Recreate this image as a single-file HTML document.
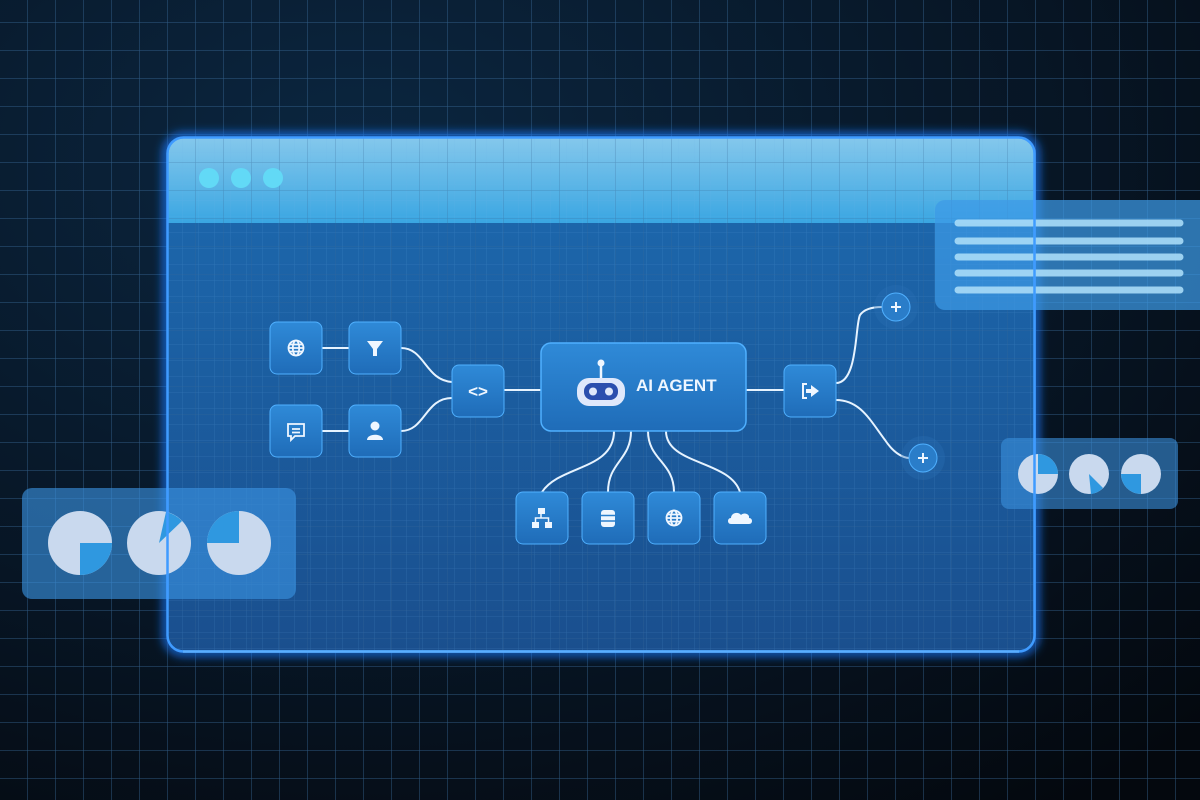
<!DOCTYPE html>
<html><head><meta charset="utf-8"><style>
html,body{margin:0;padding:0;width:1200px;height:800px;overflow:hidden;background:#050a12}
svg{display:block}
text{font-family:"Liberation Sans",sans-serif}
</style></head><body>
<svg width="1200" height="800" viewBox="0 0 1200 800" xmlns="http://www.w3.org/2000/svg">
<defs>
<radialGradient id="bg" cx="0.3" cy="0.2" r="1">
<stop offset="0" stop-color="#0b2640"/><stop offset="0.6" stop-color="#071524"/><stop offset="1" stop-color="#04080e"/>
</radialGradient>
<pattern id="grid" x="0" y="23" width="28" height="28" patternUnits="userSpaceOnUse">
<path d="M28 0V28M0 28H28" stroke="#3a6a98" stroke-width="1" fill="none" opacity="0.8"/>
</pattern>
<pattern id="fgrid" x="167" y="137" width="16" height="16" patternUnits="userSpaceOnUse">
<path d="M16 0V16M0 16H16" stroke="#6aaee8" stroke-width="0.8" fill="none" opacity="0.25"/>
</pattern>
<linearGradient id="title" x1="0" y1="0" x2="0" y2="1">
<stop offset="0" stop-color="#85c8ec"/><stop offset="1" stop-color="#3aa6e2"/>
</linearGradient>
<linearGradient id="body" x1="0" y1="0" x2="0" y2="1">
<stop offset="0" stop-color="#1c6ab0"/><stop offset="1" stop-color="#1a4f8e"/>
</linearGradient>
<linearGradient id="node" x1="0" y1="0" x2="0" y2="1">
<stop offset="0" stop-color="#2f8ad8"/><stop offset="1" stop-color="#1f6cb8"/>
</linearGradient>
<filter id="glow" x="-10%" y="-10%" width="120%" height="120%"><feGaussianBlur stdDeviation="5"/></filter>
</defs>
<rect width="1200" height="800" fill="url(#bg)"/>
<rect width="1200" height="800" fill="url(#grid)"/>

<rect x="167" y="137" width="868" height="515" rx="16" fill="none" stroke="#1f7bff" stroke-width="7" filter="url(#glow)"/>
<path d="M180 652H1022" stroke="#2a86ff" stroke-width="8" filter="url(#glow)"/>
<clipPath id="win"><rect x="167" y="137" width="868" height="515" rx="16"/></clipPath>
<g clip-path="url(#win)">
<rect x="167" y="137" width="868" height="515" fill="url(#body)"/>
<rect x="167" y="137" width="868" height="86" fill="url(#title)"/>
<rect x="167" y="137" width="868" height="515" fill="url(#fgrid)"/>
<rect x="167" y="137" width="868" height="515" fill="url(#grid)" opacity="0.6"/>
</g>
<rect x="167.5" y="137.5" width="867" height="514" rx="16" fill="none" stroke="#3f9bff" stroke-width="2.5"/>
<path d="M183 651.5H1019" stroke="#5aaeff" stroke-width="2.5"/>
<circle cx="209" cy="178" r="10" fill="#62d9f6"/>
<circle cx="241" cy="178" r="10" fill="#62d9f6"/>
<circle cx="273" cy="178" r="10" fill="#62d9f6"/>

<g stroke="#e6f3ff" stroke-width="2" fill="none">
<path d="M322 348H349"/><path d="M322 431H349"/>
<path d="M401 348C425 348 425 380 452 382"/>
<path d="M401 431C425 431 425 398 452 398"/>
<path d="M504 390H541"/>
<path d="M746 390H784"/>
<path d="M836 383C858 383 855 325 860 315C865 308 875 307 882 307"/>
<path d="M836 400C860 400 870 420 885 440C895 455 905 458 909 458"/>
<path d="M614 431C614 470 560 465 542 492"/>
<path d="M631 431C631 460 608 462 608 492"/>
<path d="M648 431C648 460 674 462 674 492"/>
<path d="M666 431C666 465 730 460 740 492"/>
</g>

<g>
<rect x="270" y="322" width="52" height="52" rx="7" fill="url(#node)" stroke="#4fb0ff" stroke-width="1"/>
<rect x="349" y="322" width="52" height="52" rx="7" fill="url(#node)" stroke="#4fb0ff" stroke-width="1"/>
<rect x="270" y="405" width="52" height="52" rx="7" fill="url(#node)" stroke="#4fb0ff" stroke-width="1"/>
<rect x="349" y="405" width="52" height="52" rx="7" fill="url(#node)" stroke="#4fb0ff" stroke-width="1"/>
<rect x="452" y="365" width="52" height="52" rx="7" fill="url(#node)" stroke="#4fb0ff" stroke-width="1"/>
<rect x="784" y="365" width="52" height="52" rx="7" fill="url(#node)" stroke="#4fb0ff" stroke-width="1"/>
<rect x="516" y="492" width="52" height="52" rx="7" fill="url(#node)" stroke="#4fb0ff" stroke-width="1"/>
<rect x="582" y="492" width="52" height="52" rx="7" fill="url(#node)" stroke="#4fb0ff" stroke-width="1"/>
<rect x="648" y="492" width="52" height="52" rx="7" fill="url(#node)" stroke="#4fb0ff" stroke-width="1"/>
<rect x="714" y="492" width="52" height="52" rx="7" fill="url(#node)" stroke="#4fb0ff" stroke-width="1"/>
<rect x="541" y="343" width="205" height="88" rx="10" fill="url(#node)" stroke="#4fb0ff" stroke-width="1.5"/>
</g>

<g fill="#eef6ff" stroke="none">
<g transform="translate(296,348)" fill="none" stroke="#eef6ff" stroke-width="1.8"><circle r="7.5"/><ellipse rx="3.2" ry="7.5"/><path d="M-7.5 0H7.5M-6.5 -3.5H6.5M-6.5 3.5H6.5"/></g>
<g transform="translate(674,518)" fill="none" stroke="#eef6ff" stroke-width="1.8"><circle r="7.5"/><ellipse rx="3.2" ry="7.5"/><path d="M-7.5 0H7.5M-6.5 -3.5H6.5M-6.5 3.5H6.5"/></g>
<path d="M367 341H383L377 349V356L373 356V349Z"/>
<g fill="none" stroke="#eef6ff" stroke-width="1.8"><path d="M288 424H304V436H295L291 440V436H288Z"/><path d="M292 429H300M292 432.5H300"/></g>
<circle cx="375" cy="426" r="4.5"/><path d="M367 440C367 433 383 433 383 440Z"/>
<text x="478" y="397" font-size="17" text-anchor="middle" font-weight="bold" fill="#eef6ff">&lt;&gt;</text>
<g fill="none" stroke="#eef6ff" stroke-width="2"><path d="M807 384H803V398H807"/></g><path d="M806 389H811V385L819 391L811 397V393H806Z"/>
<rect x="538" y="508" width="7" height="6"/><rect x="532" y="522" width="7" height="6"/><rect x="545" y="522" width="7" height="6"/>
<path d="M541 514V518H535.5V522M541 518H548.5V522" fill="none" stroke="#eef6ff" stroke-width="1.5"/>
<rect x="601" y="510" width="14" height="17" rx="3"/><path d="M601 515.5H615M601 521H615" stroke="#2a7fcc" stroke-width="1.4"/>
<path d="M731 524C727 524 727 518 731 518C731 513 738 511 741 515C744 512 750 514 749 518C753 518 753 524 749 524Z"/>
</g>

<line x1="601" y1="364" x2="601" y2="378" stroke="#eef6ff" stroke-width="2.5"/>
<circle cx="601" cy="363" r="3.5" fill="#eef6ff"/>
<rect x="577" y="378" width="48" height="28" rx="12" fill="#dfe8fb"/>
<rect x="584" y="383" width="34" height="17" rx="8" fill="#2b4fae"/>
<circle cx="593" cy="391.5" r="4" fill="#dfe8fb"/><circle cx="609" cy="391.5" r="4" fill="#dfe8fb"/>
<text x="636" y="391" font-size="17" font-weight="bold" fill="#eef6ff">AI AGENT</text>

<circle cx="896" cy="307" r="22" fill="#2a6fb5" opacity="0.35"/>
<circle cx="896" cy="307" r="14" fill="#2a7dc9" stroke="#4fb0ff"/>
<path d="M891 307H901M896 302V312" stroke="#eef6ff" stroke-width="2"/>
<circle cx="923" cy="458" r="22" fill="#2a6fb5" opacity="0.35"/>
<circle cx="923" cy="458" r="14" fill="#2a7dc9" stroke="#4fb0ff"/>
<path d="M918 458H928M923 453V463" stroke="#eef6ff" stroke-width="2"/>

<rect x="935" y="200" width="280" height="110" rx="10" fill="#3d9ae6" opacity="0.72"/>
<g stroke="#a9dcf8" stroke-width="7" stroke-linecap="round" opacity="0.9">
<path d="M958 223H1180M958 241H1180M958 257H1180M958 273H1180M958 290H1180"/>
</g>

<rect x="1001" y="438" width="177" height="71" rx="8" fill="#3b8fdc" opacity="0.6"/>
<circle cx="1038" cy="474" r="20" fill="#c9d9ee"/><path d="M1038 474V454A20 20 0 0 1 1058 474Z" fill="#2f98e0"/>
<circle cx="1089" cy="474" r="20" fill="#c9d9ee"/><path d="M1089 474L1103 488A20 20 0 0 1 1091 494Z" fill="#2f98e0"/>
<circle cx="1141" cy="474" r="20" fill="#c9d9ee"/><path d="M1141 474V494A20 20 0 0 1 1121 474Z" fill="#2f98e0"/>

<rect x="22" y="488" width="274" height="111" rx="10" fill="#3a93e2" opacity="0.62"/>
<circle cx="80" cy="543" r="32" fill="#c9d9ee"/><path d="M80 543H112A32 32 0 0 1 80 575Z" fill="#2f98e0"/>
<circle cx="159" cy="543" r="32" fill="#c9d9ee"/><path d="M159 543L166 512A32 32 0 0 1 182 521Z" fill="#2f98e0"/>
<circle cx="239" cy="543" r="32" fill="#c9d9ee"/><path d="M239 543H207A32 32 0 0 1 239 511Z" fill="#2f98e0"/>

<line x1="167.5" y1="488" x2="167.5" y2="599" stroke="#3f9bff" stroke-width="2.5"/>
<line x1="1034.5" y1="200" x2="1034.5" y2="310" stroke="#3f9bff" stroke-width="2.5"/>
<line x1="1034.5" y1="438" x2="1034.5" y2="509" stroke="#3f9bff" stroke-width="2.5"/>
</svg>
</body></html>
